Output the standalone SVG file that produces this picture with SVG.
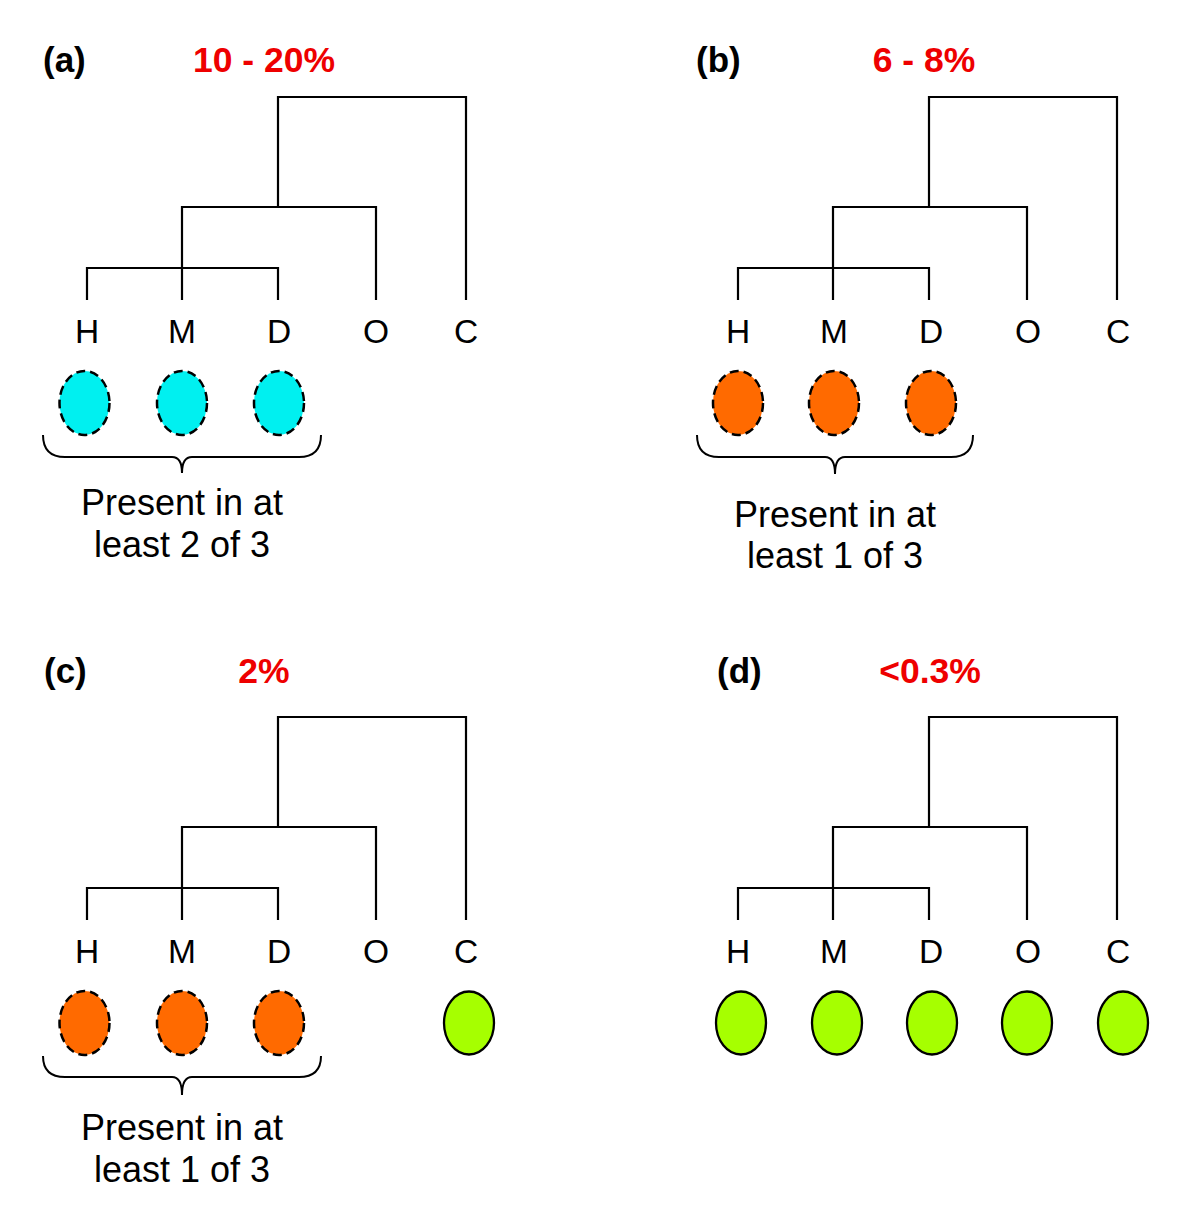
<svg xmlns="http://www.w3.org/2000/svg" width="1200" height="1228" viewBox="0 0 1200 1228">
<style>
.bg{fill:#fff}
.tree{fill:none;stroke:#000;stroke-width:2.2;stroke-linejoin:miter;stroke-linecap:butt}
.brace{fill:none;stroke:#000;stroke-width:2}
.leaf{font-family:"Liberation Sans",Arial,sans-serif;font-size:33.5px;fill:#000;text-anchor:middle}
.panel{font-family:"Liberation Sans",Arial,sans-serif;font-size:35px;font-weight:bold;fill:#000}
.pct{font-family:"Liberation Sans",Arial,sans-serif;font-size:35.5px;font-weight:bold;fill:#ee0000;text-anchor:middle}
.note{font-family:"Liberation Sans",Arial,sans-serif;font-size:36px;fill:#000;text-anchor:middle}
.cyan{fill:#00f0f0;stroke:#000;stroke-width:2.5;stroke-dasharray:9 5}
.orange{fill:#ff6a00;stroke:#000;stroke-width:2.5;stroke-dasharray:9 5}
.green{fill:#a6ff00;stroke:#000;stroke-width:2.3}
</style>
<defs>
<path id="treePath" d="M87,300 V268 H278 V300 M182,300 V207 H376 V300 M278,207 V97 H466 V300"/>
</defs>
<rect class="bg" x="0" y="0" width="1200" height="1228"/>

<g id="connectors">
  <use href="#treePath" class="tree"/>
  <use href="#treePath" class="tree" transform="translate(651,0)"/>
  <use href="#treePath" class="tree" transform="translate(0,620)"/>
  <use href="#treePath" class="tree" transform="translate(651,620)"/>
  <path class="brace" d="M43,435 Q43,457 65,457 L172,457 Q182,457 182,473 Q182,457 192,457 L299,457 Q321,457 321,435"/>
  <path class="brace" d="M697,435 Q697,457 719,457 L825,457 Q835,457 835,474 Q835,457 845,457 L951,457 Q973,457 973,435"/>
  <path class="brace" d="M43,1056 Q43,1077 65,1077 L172,1077 Q182,1077 182,1095 Q182,1077 192,1077 L299,1077 Q321,1077 321,1056"/>
</g>

<g id="panel-a">
  <text class="panel" x="43" y="72">(a)</text>
  <text class="pct" x="264" y="72">10 - 20%</text>
  <g id="a-H"><text class="leaf" x="87" y="343">H</text></g>
  <g id="a-M"><text class="leaf" x="182" y="343">M</text></g>
  <g id="a-D"><text class="leaf" x="279" y="343">D</text></g>
  <g id="a-O"><text class="leaf" x="376" y="343">O</text></g>
  <g id="a-C"><text class="leaf" x="466" y="343">C</text></g>
  <g id="a-e1"><ellipse class="cyan" cx="84.5" cy="403" rx="25" ry="32"/></g>
  <g id="a-e2"><ellipse class="cyan" cx="182" cy="403" rx="25" ry="32"/></g>
  <g id="a-e3"><ellipse class="cyan" cx="279" cy="403" rx="25" ry="32"/></g>
  <g id="a-note"><text class="note" x="182" y="515">Present in at</text><text class="note" x="182" y="557">least 2 of 3</text></g>
</g>

<g id="panel-b">
  <text class="panel" x="696" y="72">(b)</text>
  <text class="pct" x="924" y="72">6 - 8%</text>
  <g id="b-H"><text class="leaf" x="738" y="343">H</text></g>
  <g id="b-M"><text class="leaf" x="834" y="343">M</text></g>
  <g id="b-D"><text class="leaf" x="931" y="343">D</text></g>
  <g id="b-O"><text class="leaf" x="1028" y="343">O</text></g>
  <g id="b-C"><text class="leaf" x="1118" y="343">C</text></g>
  <g id="b-e1"><ellipse class="orange" cx="738" cy="403" rx="25" ry="32"/></g>
  <g id="b-e2"><ellipse class="orange" cx="834" cy="403" rx="25" ry="32"/></g>
  <g id="b-e3"><ellipse class="orange" cx="931" cy="403" rx="25" ry="32"/></g>
  <g id="b-note"><text class="note" x="835" y="527">Present in at</text><text class="note" x="835" y="568">least 1 of 3</text></g>
</g>

<g id="panel-c">
  <text class="panel" x="44" y="683">(c)</text>
  <text class="pct" x="264" y="683">2%</text>
  <g id="c-H"><text class="leaf" x="87" y="963">H</text></g>
  <g id="c-M"><text class="leaf" x="182" y="963">M</text></g>
  <g id="c-D"><text class="leaf" x="279" y="963">D</text></g>
  <g id="c-O"><text class="leaf" x="376" y="963">O</text></g>
  <g id="c-C"><text class="leaf" x="466" y="963">C</text></g>
  <g id="c-e1"><ellipse class="orange" cx="84.5" cy="1023" rx="25" ry="32"/></g>
  <g id="c-e2"><ellipse class="orange" cx="182" cy="1023" rx="25" ry="32"/></g>
  <g id="c-e3"><ellipse class="orange" cx="279" cy="1023" rx="25" ry="32"/></g>
  <g id="c-e4"><ellipse class="green" cx="469" cy="1023" rx="25" ry="31.5"/></g>
  <g id="c-note"><text class="note" x="182" y="1140">Present in at</text><text class="note" x="182" y="1182">least 1 of 3</text></g>
</g>

<g id="panel-d">
  <text class="panel" x="717" y="683">(d)</text>
  <text class="pct" x="930" y="683">&lt;0.3%</text>
  <g id="d-H"><text class="leaf" x="738" y="963">H</text></g>
  <g id="d-M"><text class="leaf" x="834" y="963">M</text></g>
  <g id="d-D"><text class="leaf" x="931" y="963">D</text></g>
  <g id="d-O"><text class="leaf" x="1028" y="963">O</text></g>
  <g id="d-C"><text class="leaf" x="1118" y="963">C</text></g>
  <g id="d-e1"><ellipse class="green" cx="741" cy="1023" rx="25" ry="31.5"/></g>
  <g id="d-e2"><ellipse class="green" cx="837" cy="1023" rx="25" ry="31.5"/></g>
  <g id="d-e3"><ellipse class="green" cx="932" cy="1023" rx="25" ry="31.5"/></g>
  <g id="d-e4"><ellipse class="green" cx="1027" cy="1023" rx="25" ry="31.5"/></g>
  <g id="d-e5"><ellipse class="green" cx="1123" cy="1023" rx="25" ry="31.5"/></g>
</g>
</svg>
